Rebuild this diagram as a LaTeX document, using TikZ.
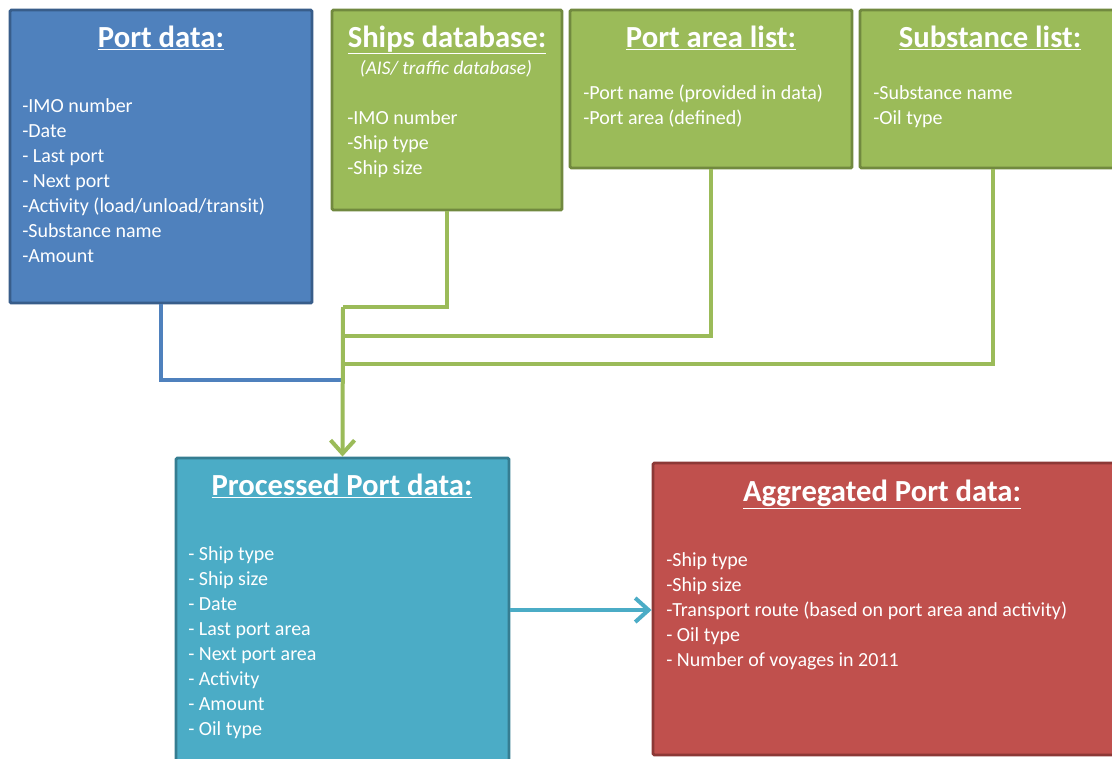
\documentclass[tikz,border=0pt]{standalone}
\usepackage{fontspec}
\setmainfont{Carlito}
\usetikzlibrary{fit,arrows.meta}
\definecolor{pdfill}{HTML}{4F81BD}
\definecolor{pddraw}{HTML}{385D8A}
\definecolor{grfill}{HTML}{9BBB59}
\definecolor{grdraw}{HTML}{71893F}
\definecolor{cyfill}{HTML}{4BACC6}
\definecolor{cydraw}{HTML}{357D91}
\definecolor{rdfill}{HTML}{C0504D}
\definecolor{rddraw}{HTML}{8C3836}
\tikzset{
  box/.style={draw, line width=2.2pt, inner sep=0pt, rounded corners=1pt},
  bluebox/.style={box, fill=pdfill, draw=pddraw},
  greenbox/.style={box, fill=grfill, draw=grdraw},
  cyanbox/.style={box, fill=cyfill, draw=cydraw},
  redbox/.style={box, fill=rdfill, draw=rddraw},
  title/.style={text=white, font=\fontsize{23}{27}\selectfont\bfseries, inner sep=0pt, anchor=base},
  sub/.style={text=white, font=\fontsize{14.5}{17}\selectfont\itshape, inner sep=0pt, anchor=base},
  body/.style={text=white, font=\fontsize{15}{18.75}\selectfont, align=left, inner sep=0pt, anchor=north west},
  conn/.style={line width=3pt},
  tip/.style={-{Straight Barb[length=10pt,width=18pt,line width=3pt]}}
}
\begin{document}
\begin{tikzpicture}[x={(0.75pt,0)}, y={(0,-0.75pt)}]
\clip (0,0) rectangle (1112,758);
\fill[white] (0,0) rectangle (1112,758);
% boxes
\node[bluebox, fit={(10,10) (312,303)}] (pd) {};
\node[greenbox, fit={(332,10) (562,210)}] (sd) {};
\node[greenbox, fit={(570,10) (852,168)}] (pa) {};
\node[greenbox, fit={(860,10) (1125,168)}] (sl) {};
\node[cyanbox, fit={(176,458) (509,780)}] (pp) {};
\node[redbox, fit={(653,463) (1125,755)}] (ag) {};
% junctions
\coordinate (jb) at (343,380);
\coordinate (j1) at (343,307);
\coordinate (j2) at (343,336);
\coordinate (j3) at (343,364);
% connectors
\draw[conn, draw=pdfill] (pd.south) |- (jb);
\draw[conn, draw=grfill] (sd.south) |- (j1);
\draw[conn, draw=grfill] (pa.south) |- (j2);
\draw[conn, draw=grfill] (sl.south) |- (j3);
\draw[conn, draw=grfill, tip] (j1) -- (pp.north);
\draw[line width=3.5pt, draw=cyfill, tip] (pp.east |- 0,610) -- (ag.west |- 0,610);
% texts
\node[title] (t1) at (161,47) {\underline{Port data:}};
\node[body] (b1) at (22,98) {-IMO number\\-Date\\- Last port\\- Next port\\-Activity (load/unload/transit)\\-Substance name\\-Amount};
\node[title] (t2) at (447,47) {\underline{Ships database:}};
\node[sub] (s2) at (446,74) {(AIS/ traffic database)};
\node[body] (b2) at (347,110) {-IMO number\\-Ship type\\-Ship size};
\node[title] (t3) at (711,47) {\underline{Port area list:}};
\node[body] (b3) at (583,85) {-Port name (provided in data)\\-Port area (defined)};
\node[title] (t4) at (990,47) {\underline{Substance list:}};
\node[body] (b4) at (873,85) {-Substance name\\-Oil type};
\node[title] (t5) at (342,495) {\underline{Processed Port data:}};
\node[body] (b5) at (188,546) {- Ship type\\- Ship size\\- Date\\- Last port area\\- Next port area\\- Activity\\- Amount\\- Oil type};
\node[title] (t6) at (882,501) {\underline{Aggregated Port data:}};
\node[body] (b6) at (666,552) {-Ship type\\-Ship size\\-Transport route (based on port area and activity)\\- Oil type\\- Number of voyages in 2011};
\end{tikzpicture}
\end{document}
